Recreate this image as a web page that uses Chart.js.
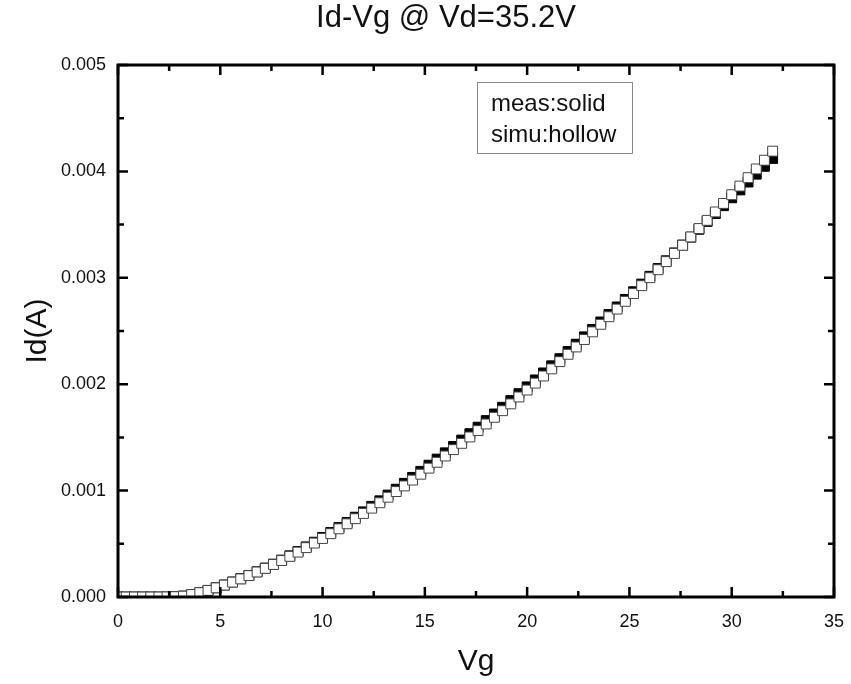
<!DOCTYPE html>
<html>
<head>
<meta charset="utf-8">
<script src="https://cdn.jsdelivr.net/npm/chart.js@4.4.1/dist/chart.umd.min.js"></script>
<style>
  html, body { margin: 0; padding: 0; background: #fff; }
  #wrap { width: 851px; height: 684px; }
</style>
</head>
<body>
<div id="wrap"><canvas id="grafico_idvg"></canvas></div>
<script>
// Vg sweep (V), step 0.4
const vg = [
  0, 0.4, 0.8, 1.2, 1.6, 2.0, 2.4, 2.8, 3.2, 3.6,
  4.0, 4.4, 4.8, 5.2, 5.6, 6.0, 6.4, 6.8, 7.2, 7.6,
  8.0, 8.4, 8.8, 9.2, 9.6, 10.0, 10.4, 10.8, 11.2, 11.6,
  12.0, 12.4, 12.8, 13.2, 13.6, 14.0, 14.4, 14.8, 15.2, 15.6,
  16.0, 16.4, 16.8, 17.2, 17.6, 18.0, 18.4, 18.8, 19.2, 19.6,
  20.0, 20.4, 20.8, 21.2, 21.6, 22.0, 22.4, 22.8, 23.2, 23.6,
  24.0, 24.4, 24.8, 25.2, 25.6, 26.0, 26.4, 26.8, 27.2, 27.6,
  28.0, 28.4, 28.8, 29.2, 29.6, 30.0, 30.4, 30.8, 31.2, 31.6,
  32.0
];

// measured Id (A) - solid squares
const idMeas = [
  0, 0, 0, 0, 0, 0, 0, 0.000003, 0.000009, 0.000022,
  0.000040, 0.000062, 0.000087, 0.000113, 0.000141, 0.000172, 0.000203, 0.000237, 0.000272, 0.000309,
  0.000347, 0.000387, 0.000428, 0.000471, 0.000515, 0.000560, 0.000606, 0.000653, 0.000701, 0.000750,
  0.000800, 0.000852, 0.000904, 0.000958, 0.001013, 0.001068, 0.001124, 0.001181, 0.001239, 0.001296,
  0.001355, 0.001415, 0.001475, 0.001535, 0.001596, 0.001658, 0.001720, 0.001783, 0.001846, 0.001911,
  0.001975, 0.002040, 0.002106, 0.002173, 0.002240, 0.002308, 0.002376, 0.002445, 0.002515, 0.002585,
  0.002655, 0.002726, 0.002797, 0.002869, 0.002941, 0.003014, 0.003087, 0.003160, 0.003234, 0.003308,
  0.003382, 0.003456, 0.003530, 0.003604, 0.003678, 0.003752, 0.003826, 0.003900, 0.003974, 0.004048,
  0.004122
];

// simulated Id (A) - hollow squares
const idSimu = [
  0, 0, 0, 0, 0, 0, 0.000001, 0.000003, 0.000008, 0.000023,
  0.000041, 0.000062, 0.000086, 0.000112, 0.000140, 0.000170, 0.000201, 0.000235, 0.000269, 0.000306,
  0.000343, 0.000382, 0.000422, 0.000464, 0.000507, 0.000550, 0.000595, 0.000641, 0.000688, 0.000736,
  0.000785, 0.000835, 0.000886, 0.000938, 0.000991, 0.001044, 0.001099, 0.001154, 0.001211, 0.001266,
  0.001325, 0.001385, 0.001444, 0.001504, 0.001564, 0.001626, 0.001689, 0.001751, 0.001815, 0.001880,
  0.001945, 0.002010, 0.002077, 0.002144, 0.002212, 0.002281, 0.002350, 0.002420, 0.002492, 0.002563,
  0.002634, 0.002706, 0.002779, 0.002852, 0.002926, 0.003001, 0.003076, 0.003152, 0.003229, 0.003306,
  0.003384, 0.003463, 0.003540, 0.003619, 0.003699, 0.003781, 0.003862, 0.003941, 0.004023, 0.004105,
  0.004190
];

const xTicks = [0, 5, 10, 15, 20, 25, 30, 35];
const yTicks = [0, 0.001, 0.002, 0.003, 0.004, 0.005];
const titulo = 'Id-Vg @ Vd=35.2V';
const legendLines = ['meas:solid', 'simu:hollow'];

const fonte = 'Arial, "Liberation Sans", sans-serif';

function pontos(ys) {
  return vg.map((v, i) => ({ x: v, y: ys[i] }));
}

// frame with inward ticks, like Origin plots, plus title and text box
const moldura = {
  id: 'moldura',
  afterDraw(chart) {
    const ctx = chart.ctx;
    const a = chart.chartArea;
    const sx = chart.scales.x;
    const sy = chart.scales.y;
    ctx.save();
    ctx.strokeStyle = '#000';
    ctx.lineWidth = 2.5;
    ctx.lineCap = 'butt';
    ctx.beginPath();
    for (let v = 0; v <= 35; v += 2.5) {
      const px = sx.getPixelForValue(v);
      const len = (v % 5 === 0) ? 10 : 6;
      ctx.moveTo(px, a.bottom); ctx.lineTo(px, a.bottom - len);
      ctx.moveTo(px, a.top); ctx.lineTo(px, a.top + len);
    }
    for (let k = 0; k <= 10; k++) {
      const py = sy.getPixelForValue(k * 0.0005);
      const len = (k % 2 === 0) ? 10 : 6;
      ctx.moveTo(a.left, py); ctx.lineTo(a.left + len, py);
      ctx.moveTo(a.right, py); ctx.lineTo(a.right - len, py);
    }
    ctx.stroke();
    ctx.lineWidth = 3;
    ctx.strokeRect(a.left, a.top, a.right - a.left, a.bottom - a.top);

    // title
    ctx.fillStyle = '#111';
    ctx.font = '31px ' + fonte;
    ctx.textAlign = 'center';
    ctx.textBaseline = 'middle';
    ctx.fillText(titulo, 446, 18);

    // text box
    ctx.lineWidth = 1;
    ctx.strokeStyle = '#888';
    ctx.strokeRect(477.5, 82.5, 155, 71);
    ctx.font = '24px ' + fonte;
    ctx.textAlign = 'left';
    ctx.fillText(legendLines[0], 491, 104);
    ctx.fillText(legendLines[1], 491, 135);
    ctx.restore();
  }
};

const ctx = document.getElementById('grafico_idvg').getContext('2d');

new Chart(ctx, {
  type: 'scatter',
  data: {
    datasets: [
      {
        label: 'simu',
        data: pontos(idSimu),
        pointStyle: 'rect',
        pointRadius: 7,
        pointBackgroundColor: '#fff',
        pointBorderColor: '#444',
        pointBorderWidth: 1,
        order: 0
      },
      {
        label: 'meas',
        data: pontos(idMeas),
        pointStyle: 'rect',
        pointRadius: 7,
        pointBackgroundColor: '#000',
        pointBorderColor: '#000',
        pointBorderWidth: 1,
        order: 1
      }
    ]
  },
  plugins: [moldura],
  options: {
    responsive: true,
    maintainAspectRatio: false,
    animation: false,
    layout: { padding: { left: 0, right: 17, top: 65, bottom: 0 } },
    scales: {
      x: {
        type: 'linear',
        min: 0,
        max: 35,
        afterBuildTicks: (s) => { s.ticks = xTicks.map(v => ({ value: v })); },
        afterFit: (s) => { s.height = 87; s.paddingRight = 0; s.paddingLeft = 0; },
        grid: { display: false, drawTicks: false },
        border: { display: false },
        ticks: {
          color: '#111',
          padding: 14,
          font: { family: fonte, size: 18 },
          maxRotation: 0
        },
        title: {
          display: true,
          text: 'Vg',
          color: '#111',
          font: { family: fonte, size: 30 },
          padding: { top: 0, bottom: 4 }
        }
      },
      y: {
        type: 'linear',
        min: 0,
        max: 0.005,
        afterBuildTicks: (s) => { s.ticks = yTicks.map(v => ({ value: v })); },
        afterFit: (s) => { s.width = 118; s.paddingTop = 0; s.paddingBottom = 0; },
        grid: { display: false, drawTicks: false },
        border: { display: false },
        ticks: {
          color: '#111',
          padding: 12,
          font: { family: fonte, size: 18 },
          callback: (v) => v.toFixed(3)
        },
        title: {
          display: true,
          text: 'Id(A)',
          color: '#111',
          font: { family: fonte, size: 30 },
          padding: { top: 20, bottom: 0 }
        }
      }
    },
    plugins: {
      legend: { display: false },
      tooltip: { enabled: false },
      title: { display: false }
    }
  }
});
</script>
</body>
</html>
